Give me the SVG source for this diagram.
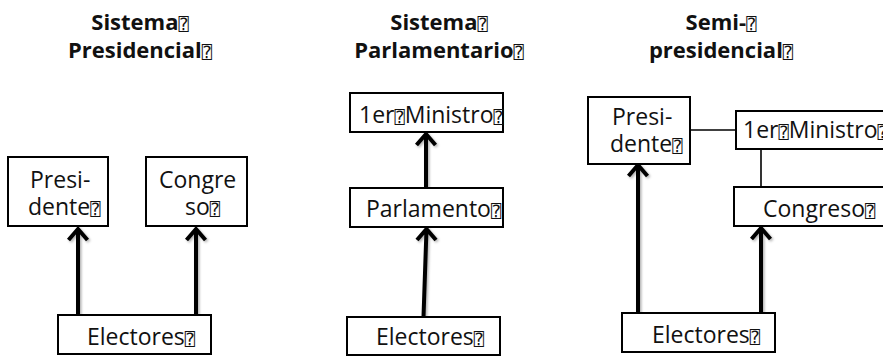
<svg xmlns="http://www.w3.org/2000/svg" width="883" height="356" viewBox="0 0 883 356">
  <defs>
    <filter id="shade" x="-50%" y="-10%" width="200%" height="120%">
      <feDropShadow dx="1.5" dy="1.5" stdDeviation="1.2" flood-color="#000" flood-opacity="0.3"/>
    </filter>
  </defs>
  <style>
    .box { fill: #fff; stroke: #000; stroke-width: 2; }
    .lbl { font-family: "Open Sans", "Liberation Sans", sans-serif; font-size: 23px; fill: #111; }
    .ttl { font-family: "Open Sans", "Liberation Sans", sans-serif; font-size: 22px; font-weight: 700; fill: #111; text-anchor: middle; }
    .q { font-family: "DejaVu Sans Mono", "DejaVu Sans", monospace; font-size: 17px; font-weight: 400; }
    .arrow { fill: none; stroke: #000; stroke-width: 4; stroke-linejoin: miter; filter: url(#shade); }
    .link { fill: none; stroke: #000; stroke-width: 1.6; }
  </style>

  <!-- Headings -->
  <g id="titles">
    <text class="ttl"><tspan x="140" y="30">Sistema<tspan class="q">⍰</tspan></tspan><tspan x="140" y="58">Presidencial<tspan class="q">⍰</tspan></tspan></text>
    <text class="ttl"><tspan x="439" y="30">Sistema<tspan class="q">⍰</tspan></tspan><tspan x="439" y="58">Parlamentario<tspan class="q">⍰</tspan></tspan></text>
    <text class="ttl"><tspan x="721" y="30">Semi-<tspan class="q">⍰</tspan></tspan><tspan x="721" y="58">presidencial<tspan class="q">⍰</tspan></tspan></text>
  </g>

  <!-- Connectors -->
  <g id="connectors">
    <path class="arrow" d="M78,315 V229 M68.5,240 L78,229 L87.5,240"/>
    <path class="arrow" d="M196,315 V229 M186.5,240 L196,229 L205.5,240"/>
    <path class="arrow" d="M426,188 V134 M416.5,145 L426,134 L435.5,145"/>
    <path class="arrow" d="M423.5,317 L426.5,229 M417,240 L426.5,229 L436,240"/>
    <path class="arrow" d="M638,313 V165 M628.5,176 L638,165 L647.5,176"/>
    <path class="arrow" d="M761,313 V228 M751.5,239 L761,228 L770.5,239"/>
    <path class="link" d="M690,130 H736"/>
    <path class="link" d="M761,149 V187"/>
  </g>

  <!-- Presidential system -->
  <g id="p1-presidente">
    <rect class="box" x="8" y="157" width="100" height="69"/>
    <text class="lbl"><tspan x="30" y="188">Presi-</tspan><tspan x="28" y="215">dente<tspan class="q">⍰</tspan></tspan></text>
  </g>
  <g id="p1-congreso">
    <rect class="box" x="146" y="157" width="101" height="69"/>
    <text class="lbl"><tspan x="159" y="188">Congre</tspan><tspan x="185" y="215">so<tspan class="q">⍰</tspan></tspan></text>
  </g>
  <g id="p1-electores">
    <rect class="box" x="58" y="315" width="153" height="39"/>
    <text class="lbl" x="87" y="345">Electores<tspan class="q">⍰</tspan></text>
  </g>

  <!-- Parliamentary system -->
  <g id="p2-ministro">
    <rect class="box" x="350" y="93" width="153" height="39"/>
    <text class="lbl" x="359" y="123">1er<tspan class="q">⍰</tspan>Ministro<tspan class="q">⍰</tspan></text>
  </g>
  <g id="p2-parlamento">
    <rect class="box" x="350" y="188" width="153" height="39"/>
    <text class="lbl" x="366" y="217">Parlamento<tspan class="q">⍰</tspan></text>
  </g>
  <g id="p2-electores">
    <rect class="box" x="347" y="317" width="153" height="38"/>
    <text class="lbl" x="376" y="345">Electores<tspan class="q">⍰</tspan></text>
  </g>

  <!-- Semi-presidential system -->
  <g id="p3-presidente">
    <rect class="box" x="588" y="97" width="102" height="67"/>
    <text class="lbl"><tspan x="612" y="125">Presi-</tspan><tspan x="610" y="152">dente<tspan class="q">⍰</tspan></tspan></text>
  </g>
  <g id="p3-ministro">
    <rect class="box" x="736" y="111" width="160" height="38"/>
    <text class="lbl" x="743" y="138">1er<tspan class="q">⍰</tspan>Ministro<tspan class="q">⍰</tspan></text>
  </g>
  <g id="p3-congreso">
    <rect class="box" x="734" y="187" width="160" height="39"/>
    <text class="lbl" x="763" y="217">Congreso<tspan class="q">⍰</tspan></text>
  </g>
  <g id="p3-electores">
    <rect class="box" x="622" y="313" width="153" height="39"/>
    <text class="lbl" x="652" y="343">Electores<tspan class="q">⍰</tspan></text>
  </g>
</svg>
